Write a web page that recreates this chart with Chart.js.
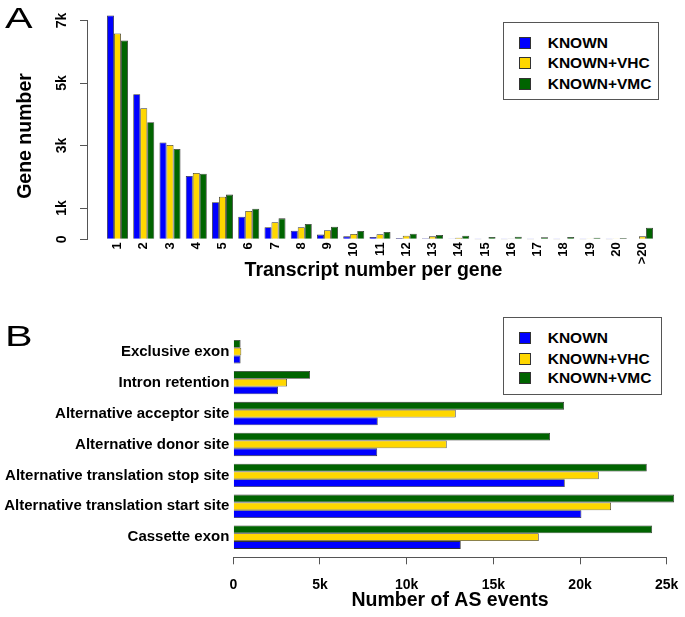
<!DOCTYPE html>
<html><head><meta charset="utf-8">
<script src="https://cdn.jsdelivr.net/npm/chart.js@4.4.1/dist/chart.umd.min.js"></script>
<style>
html,body{margin:0;padding:0;background:#fff;}
body{width:685px;height:617px;position:relative;overflow:hidden;font-family:'Liberation Sans',Arial,Helvetica,sans-serif;}
canvas{position:absolute;left:0;}
#cA{top:0}
#cB{top:300px}
.lbl{position:absolute;white-space:nowrap;color:#000;}
.panel{font-size:30px;line-height:30px;transform:scaleX(1.38);transform-origin:0 0;}
.ytitle{font-weight:bold;font-size:19.5px;line-height:24px;width:200px;height:24px;text-align:center;transform:rotate(-90deg);}
.legend{position:absolute;border:1px solid #555;box-sizing:border-box;background:#fff;}
.sw{position:absolute;width:12px;height:12px;box-sizing:border-box;border:1px solid #333;}
.lt{position:absolute;font-weight:bold;font-size:15.5px;line-height:20px;white-space:nowrap;color:#000;}
</style></head><body>
<canvas id="cA" width="685" height="300"></canvas>
<canvas id="cB" width="685" height="317"></canvas>
<div class="lbl panel" style="left:5px;top:3px">A</div>
<div class="lbl panel" style="left:4.5px;top:321px">B</div>
<div class="lbl ytitle" style="left:-76px;top:124px">Gene number</div>
<script>
// ---- data ----
const seriesNames = ['KNOWN', 'KNOWN+VHC', 'KNOWN+VMC'];
const seriesColors = ['#0000FF', '#FFD700', '#006400'];

const transcriptCats = ['1','2','3','4','5','6','7','8','9','10','11','12','13','14','15','16','17','18','19','20','>20'];
const knownA = [7160, 4640, 3095, 2025, 1185, 725, 385, 275, 150, 95, 75, 40, 30, 10, 5, 4, 3, 3, 2, 2, 15];
const vhcA   = [6585, 4195, 3020, 2120, 1365, 905, 545, 385, 290, 170, 160, 115, 95, 50, 20, 25, 15, 15, 10, 8, 95];
const vmcA   = [6360, 3745, 2890, 2100, 1430, 980, 670, 490, 405, 265, 235, 180, 140, 115, 75, 85, 65, 75, 50, 40, 370];
const yTicksA = [0, 1000, 3000, 5000, 7000];

const asCats = ['Cassette exon', 'Alternative translation start site', 'Alternative translation stop site',
                'Alternative donor site', 'Alternative acceptor site', 'Intron retention', 'Exclusive exon'];
const knownB = [13120, 20080, 19120, 8300, 8330, 2580, 420];
const vhcB   = [17620, 21790, 21080, 12310, 12830, 3100, 460];
const vmcB   = [24160, 25430, 23850, 18270, 19080, 4425, 420];
const xTicksB = [0, 5000, 10000, 15000, 20000, 25000];

// ---- rendering ----
Chart.defaults.font.family = "'Liberation Sans', Arial, Helvetica, sans-serif";
Chart.defaults.color = '#000';
const kfmt = v => v === 0 ? '0' : (v / 1000) + 'k';
const noPad = s => { s.paddingTop = 0; s.paddingBottom = 0; s.paddingLeft = 0; s.paddingRight = 0; };

const seriesA = [knownA, vhcA, vmcA];
new Chart(document.getElementById('cA'), {
  type: 'bar',
  data: {
    datasets: seriesNames.map((n, s) => ({
      label: n,
      data: seriesA[s].map((v, i) => ({x: i + 1, y: v})),
      backgroundColor: seriesColors[s], borderColor: '#333', borderWidth: 0.8, clip: false
    }))
  },
  options: {
    responsive: false, animation: false, devicePixelRatio: 1,
    layout: {padding: {top: 20.5, right: 25, left: 0, bottom: 0}},
    plugins: {legend: {display: false}, tooltip: {enabled: false}},
    datasets: {bar: {categoryPercentage: 0.8, barPercentage: 1}},
    scales: {
      x: {
        type: 'linear', min: -0.162, max: 21.667, bounds: 'data', offset: false,
        afterBuildTicks: s => { s.ticks = transcriptCats.map((c, i) => ({value: i + 1})); },
        afterFit: s => { s.height = 60.7; noPad(s); },
        grid: {display: false, drawTicks: false, offset: false}, border: {display: false},
        ticks: {autoSkip: false, minRotation: 90, maxRotation: 90, padding: 3, color: '#000',
                font: {weight: 'bold', size: 13}, callback: v => transcriptCats[v - 1]},
        title: {display: true, text: 'Transcript number per gene', color: '#000',
                font: {weight: 'bold', size: 19.5}, padding: {top: 0, bottom: 17.8}}
      },
      y: {
        min: 0, max: 7000, bounds: 'data',
        afterBuildTicks: s => { s.ticks = yTicksA.map(v => ({value: v})); },
        afterFit: s => { s.width = 87; noPad(s); },
        grid: {drawOnChartArea: false, tickLength: 7, color: '#555', lineWidth: 1},
        border: {color: '#555', width: 1},
        ticks: {minRotation: 90, maxRotation: 90, crossAlign: 'center', padding: 10.5, color: '#000',
                font: {weight: 'bold', size: 14}, callback: kfmt}
      }
    }
  }
});

const seriesB = [knownB, vhcB, vmcB];
new Chart(document.getElementById('cB'), {
  type: 'bar',
  data: {
    datasets: [2, 1, 0].map(s => ({
      label: seriesNames[s],
      data: seriesB[s].map((v, i) => ({x: v, y: i})),
      backgroundColor: seriesColors[s], borderColor: '#333', borderWidth: 0.8, clip: false
    }))
  },
  options: {
    indexAxis: 'y',
    responsive: false, animation: false, devicePixelRatio: 1,
    layout: {padding: {top: 36.25, right: 18.3, left: 0, bottom: 0}},
    plugins: {legend: {display: false}, tooltip: {enabled: false}},
    datasets: {bar: {categoryPercentage: 0.755, barPercentage: 1}},
    scales: {
      y: {
        type: 'linear', min: -0.65, max: 6.5, bounds: 'data', offset: false,
        afterBuildTicks: s => { s.ticks = asCats.map((c, i) => ({value: i})); },
        afterFit: s => { s.width = 233.3; noPad(s); },
        grid: {display: false, drawTicks: false, offset: false}, border: {display: false},
        ticks: {autoSkip: false, padding: 4, color: '#000', font: {weight: 'bold', size: 15},
                callback: v => asCats[v]}
      },
      x: {
        min: 0, max: 25000, bounds: 'data',
        afterBuildTicks: s => { s.ticks = xTicksB.map(v => ({value: v})); },
        afterFit: s => { s.height = 59.7; noPad(s); },
        grid: {drawOnChartArea: false, tickLength: 7, color: '#555', lineWidth: 1},
        border: {color: '#555', width: 1},
        ticks: {autoSkip: false, maxRotation: 0, padding: 12, color: '#000',
                font: {weight: 'bold', size: 14}, callback: kfmt},
        title: {display: true, text: 'Number of AS events', color: '#000',
                font: {weight: 'bold', size: 19.5}, padding: {top: 0, bottom: 4.3}}
      }
    }
  }
});

// legends (HTML, R-style boxed legend)
function buildLegend(box, rows) {
  const d = document.createElement('div');
  d.className = 'legend';
  Object.assign(d.style, {left: box.left + 'px', top: box.top + 'px', width: box.w + 'px', height: box.h + 'px'});
  document.body.appendChild(d);
  seriesNames.forEach((n, i) => {
    const sw = document.createElement('div');
    sw.className = 'sw';
    Object.assign(sw.style, {left: (518.3 - box.left) + 'px', top: (rows[i] - 6 - box.top) + 'px', background: seriesColors[i]});
    d.appendChild(sw);
    const t = document.createElement('div');
    t.className = 'lt';
    t.textContent = n;
    Object.assign(t.style, {left: (546.7 - box.left) + 'px', top: (rows[i] - 10 - box.top) + 'px'});
    d.appendChild(t);
  });
}
buildLegend({left: 502.7, top: 21.7, w: 156.6, h: 78.3}, [42.2, 62.4, 82.6]);
buildLegend({left: 502.7, top: 316.7, w: 159, h: 78.3}, [337.5, 357.8, 377.0]);
</script>
</body></html>
